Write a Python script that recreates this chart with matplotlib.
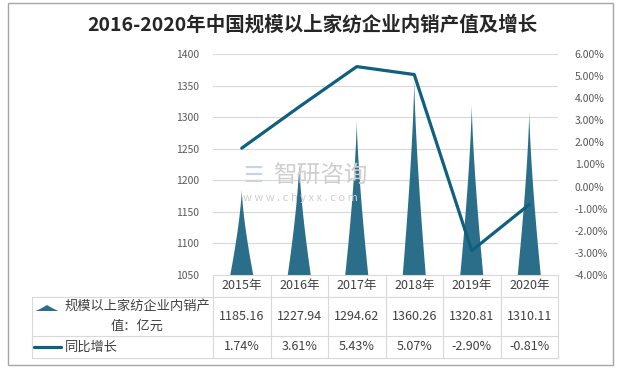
import numpy as np
import matplotlib
matplotlib.use("Agg")
import matplotlib.pyplot as plt
from matplotlib.lines import Line2D
from matplotlib.patches import Rectangle

plt.rcParams['font.family'] = ['Noto Sans CJK SC', 'DejaVu Sans']

# data
years = ["2015年", "2016年", "2017年", "2018年", "2019年", "2020年"]
output_value = [1185.16, 1227.94, 1294.62, 1360.26, 1320.81, 1310.11]
growth_pct = [1.74, 3.61, 5.43, 5.07, -2.90, -0.81]
bar_label = "规模以上家纺企业内销产"
bar_label2 = "值：亿元"
line_label = "同比增长"
title = "2016-2020年中国规模以上家纺企业内销产值及增长"

W, H = 625, 370
BAR_COLOR = "#2a6e89"
LINE_COLOR = "#0f5f7f"
GRID = "#d9d9d9"
TXT = "#404040"
TICK = "#595959"


def fx(x):
    return x / W


def fy(y):
    return 1 - y / H


fig = plt.figure(figsize=(W / 100, H / 100), dpi=100)
fig.patch.set_facecolor("white")

# outer frame
fig.add_artist(Rectangle((fx(8), fy(365)), fx(613) - fx(8), fy(3) - fy(365),
                         transform=fig.transFigure, fill=False,
                         edgecolor="#a6a6a6", linewidth=1.0))

fig.text(fx(312), fy(25), title, ha="center", va="center",
         fontsize=14, fontweight="bold", color="#262626")

# plot area in pixels: x 213..558, y 54..275
ax = fig.add_axes([fx(213), fy(275), fx(558) - fx(213), fy(54) - fy(275)])
ax.set_xlim(-0.5, len(years) - 0.5)
ax.set_ylim(1050, 1400)
ax.set_yticks(np.arange(1050, 1401, 50))
ax.set_xticks([])
for s in ax.spines.values():
    s.set_visible(False)
ax.tick_params(axis="y", length=0, labelsize=7.5, labelcolor=TICK, pad=10)
ax.yaxis.grid(True, color=GRID, linewidth=0.8)
ax.set_axisbelow(True)

# watermark
fig.text(fx(243), fy(176), "\u2630", fontsize=16, color="#c8d3e6",
         ha="left", va="center", zorder=0)
fig.text(fx(273), fy(176), "智研咨询", fontsize=17, color="#cfcfcf",
         ha="left", va="center", zorder=0)
fig.text(fx(243), fy(198), "w w w . c h y x x . c o m", fontsize=8,
         color="#cfcfcf", ha="left", va="center", zorder=0)

# spike bars
half_w = 0.2
t = np.linspace(0, 1, 60)
for i, v in enumerate(output_value):
    yy = 1050 + (v - 1050) * t
    off = half_w * (1 - t) ** 1.4
    xs = np.concatenate([i - off, (i + off)[::-1]])
    ys = np.concatenate([yy, yy[::-1]])
    ax.fill(xs, ys, color=BAR_COLOR, linewidth=0, zorder=2)

# growth line on right axis
ax2 = ax.twinx()
ax2.set_ylim(-4, 6)
ax2.set_yticks(np.arange(-4, 6.01, 1))
ax2.set_yticklabels([f"{v:.2f}%" for v in np.arange(-4, 6.01, 1)])
for s in ax2.spines.values():
    s.set_visible(False)
ax2.tick_params(axis="y", length=0, labelsize=7.5, labelcolor=TICK, pad=12)
ax2.plot(range(len(years)), growth_pct, color=LINE_COLOR, linewidth=2.3,
         solid_capstyle="round", zorder=3)

# data table below the plot
col_x = [213 + 57.5 * k for k in range(len(years) + 1)]
rows_y = [275, 297, 336, 358]


def hline(x0, x1, y):
    fig.add_artist(Line2D([fx(x0), fx(x1)], [fy(y), fy(y)],
                          transform=fig.transFigure, color=GRID, linewidth=0.8))


def vline(x, y0, y1):
    fig.add_artist(Line2D([fx(x), fx(x)], [fy(y0), fy(y1)],
                          transform=fig.transFigure, color=GRID, linewidth=0.8))


hline(col_x[0], col_x[-1], rows_y[0])
for y in rows_y[1:]:
    hline(32, col_x[-1], y)
for x in col_x:
    vline(x, rows_y[0], rows_y[-1])
vline(32, rows_y[1], rows_y[-1])

for k, yr in enumerate(years):
    cx = (col_x[k] + col_x[k + 1]) / 2
    fig.text(fx(cx), fy(286), yr, ha="center", va="center", fontsize=9, color=TXT)
    fig.text(fx(cx), fy(317), f"{output_value[k]:.2f}", ha="center", va="center",
             fontsize=9, color=TXT)
    fig.text(fx(cx), fy(347), f"{growth_pct[k]:.2f}%", ha="center", va="center",
             fontsize=9, color=TXT)

# legend keys in the table
tri_t = np.linspace(0, 1, 20)
tri_x = np.concatenate([35 + 12 * tri_t ** 0.8, (59 - 12 * tri_t ** 0.8)[::-1]])
tri_y = np.concatenate([311 - 6 * tri_t, (311 - 6 * tri_t)[::-1]])
fig.add_artist(plt.Polygon(np.column_stack([fx(tri_x), fy(tri_y)]),
                           closed=True, transform=fig.transFigure,
                           color=BAR_COLOR, linewidth=0))
fig.text(fx(137), fy(306), bar_label, ha="center", va="center", fontsize=9.5, color=TXT)
fig.text(fx(137), fy(326), bar_label2, ha="center", va="center", fontsize=9.5, color=TXT)
fig.add_artist(Line2D([fx(34), fx(61)], [fy(347), fy(347)], transform=fig.transFigure,
                      color=LINE_COLOR, linewidth=2.3, solid_capstyle="round"))
fig.text(fx(65), fy(347), line_label, ha="left", va="center", fontsize=9.5, color=TXT)

fig.savefig("out.png", dpi=100, facecolor="white")
